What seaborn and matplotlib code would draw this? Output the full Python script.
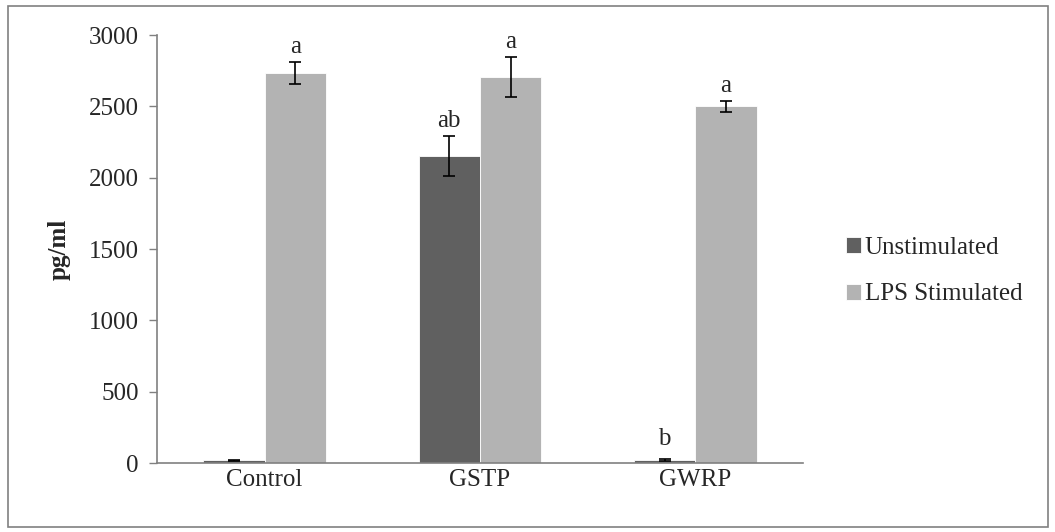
import matplotlib
matplotlib.use("Agg")
import matplotlib.pyplot as plt
import seaborn as sns
import pandas as pd
import numpy as np
from matplotlib.patches import Rectangle

categories = ["Control", "GSTP", "GWRP"]
series_names = ["Unstimulated", "LPS Stimulated"]
unstim_vals = [18, 2150, 18]
lps_vals = [2735, 2705, 2500]
unstim_err = [5, 140, 7]
lps_err = [75, 140, 38]
unstim_letters = ["", "ab", "b"]
lps_letters = ["a", "a", "a"]
yticks = [0, 500, 1000, 1500, 2000, 2500, 3000]

sns.set_style("white")
plt.rcParams['font.family'] = ['Liberation Serif', 'DejaVu Serif']
FS = 18

df = pd.DataFrame({
    "cat": categories * 2,
    "series": [series_names[0]] * 3 + [series_names[1]] * 3,
    "val": unstim_vals + lps_vals,
})

fig = plt.figure(figsize=(10.55, 5.32), dpi=100)
ax = fig.add_axes([157/1055, 1-463/532, (803-157)/1055, (463-35)/532])

sns.barplot(data=df, x="cat", y="val", hue="series", order=categories,
            hue_order=series_names, palette=["#606060", "#b3b3b3"],
            width=0.57, gap=0, errorbar=None, ax=ax, edgecolor="white",
            linewidth=0.6, legend=True)

errs = [unstim_err, lps_err]
vals = [unstim_vals, lps_vals]
letters = [unstim_letters, lps_letters]
bar_containers = list(ax.containers)
for si, cont in enumerate(bar_containers):
    for bi, patch in enumerate(cont.patches):
        xc = patch.get_x() + patch.get_width() / 2
        v = vals[si][bi]
        e = errs[si][bi]
        ax.errorbar(xc, v, yerr=e, fmt="none", ecolor="black", elinewidth=1.2,
                    capsize=4.5, capthick=1.2, zorder=5)
        if letters[si][bi]:
            off = 7 if letters[si][bi] == "b" else 3
            ax.annotate(letters[si][bi], (xc, v + e), xytext=(0, off),
                        textcoords="offset points", ha="center", va="bottom",
                        fontsize=FS)

ax.set_ylim(0, 3000)
ax.set_xlim(-0.5, 2.5)
ax.set_yticks(yticks)
ax.set_yticklabels([str(t) for t in yticks], fontsize=FS)
ax.set_xticks(range(len(categories)))
ax.set_xticklabels(categories, fontsize=FS)
ax.set_xticks([-0.5, 0.5, 1.5, 2.5], minor=True)
ax.tick_params(axis="x", which="major", length=0, pad=4)
ax.tick_params(axis="x", which="minor", length=6, color="#808080", width=1, direction="out")
ax.tick_params(axis="y", length=6, color="#808080", width=1, direction="out", left=True, pad=7)
ax.set_xlabel("")
ax.set_ylabel("pg/ml", fontsize=FS, fontweight="bold", labelpad=13)

for s in ["top", "right"]:
    ax.spines[s].set_visible(False)
for s in ["left", "bottom"]:
    ax.spines[s].set_color("#808080")
    ax.spines[s].set_linewidth(1.2)

handles, labels = ax.get_legend_handles_labels()
ax.get_legend().remove()
fig.legend(handles, labels, loc="center left", bbox_to_anchor=(846/1055, 1-271/532),
           frameon=False, fontsize=FS, handlelength=0.6, handleheight=0.6,
           handletextpad=0.15, labelspacing=1.0, borderaxespad=0, borderpad=0)

fig.patches.append(Rectangle((8/1055, 1-527/532), (1048-8)/1055, (527-6)/532,
                             transform=fig.transFigure, fill=False,
                             edgecolor="#808080", linewidth=1.2))

fig.savefig("out.png", dpi=100)
